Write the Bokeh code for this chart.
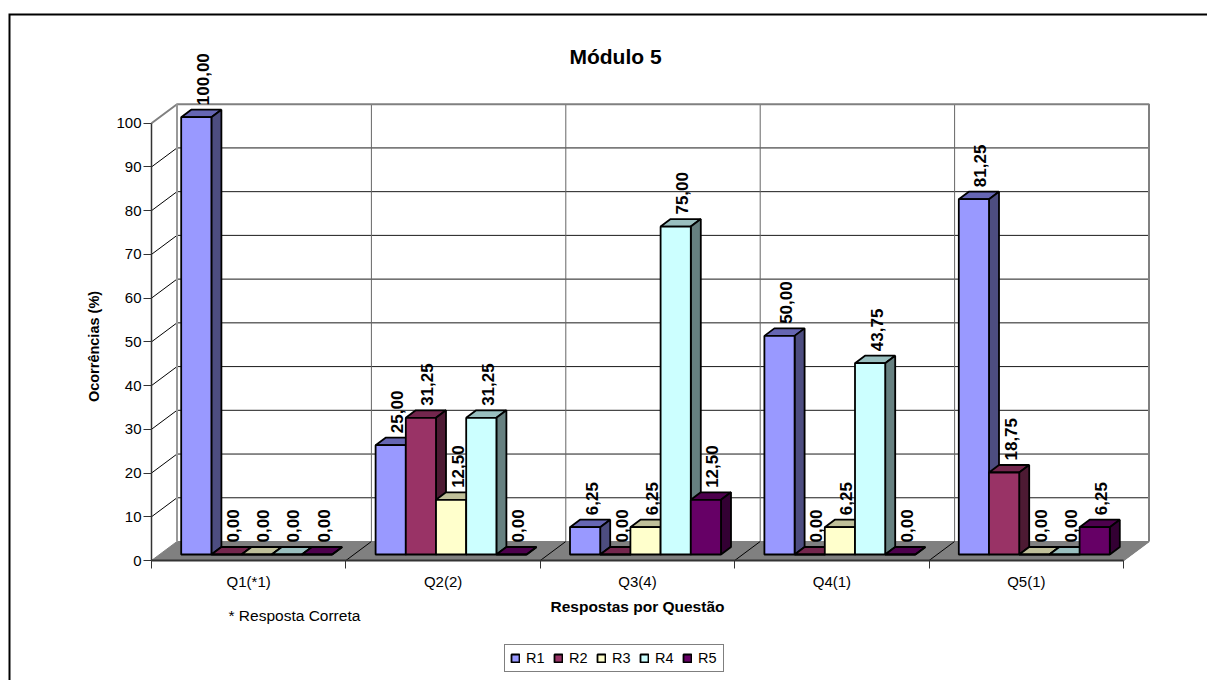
from bokeh.plotting import figure
from bokeh.embed import file_html
from bokeh.resources import INLINE
from bokeh.core.properties import value
from bokeh.models import (ColumnDataSource, FixedTicker, LabelSet, Label, Legend, LegendItem, Range1d)

categories = ["Q1(*1)", "Q2(2)", "Q3(4)", "Q4(1)", "Q5(1)"]
R1 = [100.00, 25.00, 6.25, 50.00, 81.25]
R2 = [0.00, 31.25, 0.00, 0.00, 18.75]
R3 = [0.00, 12.50, 6.25, 6.25, 0.00]
R4 = [0.00, 31.25, 75.00, 43.75, 0.00]
R5 = [0.00, 0.00, 12.50, 0.00, 6.25]
series_names = ["R1", "R2", "R3", "R4", "R5"]
series_values = [R1, R2, R3, R4, R5]
front_colors = ["#9999FF", "#993366", "#FFFFCC", "#CCFFFF", "#660066"]
top_colors = ["#6666B3", "#73264D", "#BFBF99", "#99BFBF", "#4D004D"]
side_colors = ["#4D4D80", "#4D1A33", "#808066", "#668080", "#330033"]
y_ticks = [0, 10, 20, 30, 40, 50, 60, 70, 80, 90, 100]

FONT = "Liberation Sans"
W, H = 1207, 680
# scale in page pixels: origin of the axes and size of one unit
OX, OY = 151, 560
PX_CAT = 194.4
PX_VAL = 4.373
def hx(px): return px / PX_CAT
def vy(px): return px / PX_VAL
def page_x(px): return (px - OX) / PX_CAT
def page_y(py): return (OY - py) / PX_VAL

p = figure(width=W, height=H, output_backend="svg", toolbar_location=None,
           x_range=Range1d(page_x(0), page_x(W)), y_range=Range1d(page_y(H), page_y(0)),
           min_border=0, background_fill_color="white", border_fill_color="white",
           outline_line_color=None)
p.grid.visible = False

# outer chart border (right and bottom sides lie outside the picture)
p.line([page_x(9), page_x(9), page_x(W + 20)], [page_y(H + 20), page_y(14), page_y(14)],
       line_color="black", line_width=2, line_join="miter")

# title
p.add_layout(Label(x=page_x(615), y=page_y(56), text="Módulo 5", text_align="center",
                   text_baseline="alphabetic", text_font=FONT, text_font_size="21px",
                   text_font_style="bold", text_color="black"))

# wall / floor depth
DX, DY = hx(25.5), vy(19)
n = len(categories)

# floor
p.patch([0, n, n + DX, DX], [0, 0, DY, DY], fill_color="#808080", line_color="#808080")
# floor category dividers
p.segment(list(range(1, n)), [0] * (n - 1), [i + DX for i in range(1, n)], [DY] * (n - 1),
          line_color="black", line_width=1)
# back wall grid
grid_t = y_ticks[1:-1]
p.segment([DX] * len(grid_t), [t + DY for t in grid_t], [n + DX] * len(grid_t), [t + DY for t in grid_t],
          line_color="#1a1a1a", line_width=1)
p.segment([0] * len(grid_t), grid_t, [DX] * len(grid_t), [t + DY for t in grid_t],
          line_color="black", line_width=1)
p.segment([i + DX for i in range(1, n)], [DY] * (n - 1), [i + DX for i in range(1, n)], [100 + DY] * (n - 1),
          line_color="#666666", line_width=1)
# wall frame
p.line([0, DX, n + DX, n + DX], [100, 100 + DY, 100 + DY, DY], line_color="#808080", line_width=2)
p.line([DX, DX], [DY, 100 + DY], line_color="#999999", line_width=2)
p.line([n, n + DX], [0, DY], line_color="#808080", line_width=1.5)

# bars
BW = hx(30.2)
SX, SY = hx(8), vy(6)           # offset of the bar front plane from the front of the floor
BDX, BDY = hx(10), vy(7.5)      # bar depth
GAP = (1 - 5 * BW) / 2
LW = 1.8
items = []
lab_x, lab_y, lab_t = [], [], []
for s, (name, vals) in enumerate(zip(series_names, series_values)):
    left = [i + GAP + s * BW + SX for i in range(n)]
    right = [l + BW for l in left]
    base = [SY] * n
    tops = [v + SY for v in vals]
    p.patches([[l, r, r + BDX, l + BDX] for l, r in zip(left, right)],
              [[t, t, t + BDY, t + BDY] for t in tops],
              fill_color=top_colors[s], line_color="black", line_width=LW)
    p.patches([[r, r + BDX, r + BDX, r] for r in right],
              [[b, b + BDY, t + BDY, t] for b, t in zip(base, tops)],
              fill_color=side_colors[s], line_color="black", line_width=LW)
    q = p.quad(left=left, right=right, bottom=base, top=tops,
               fill_color=front_colors[s], line_color="black", line_width=LW)
    items.append(LegendItem(label=name, renderers=[q]))
    for l, t, v in zip(left, tops, vals):
        lab_x.append(l + BW / 2 + hx(6.5))
        lab_y.append(t + BDY + vy(4.5))
        lab_t.append(f"{v:.2f}".replace(".", ","))

src = ColumnDataSource(dict(x=lab_x, y=lab_y, t=lab_t))
p.add_layout(LabelSet(x="x", y="y", text="t", source=src, angle=90, angle_units="deg",
                      text_align="left", text_baseline="middle",
                      text_font=value(FONT), text_font_size=value("17px"),
                      text_font_style=value("bold"), text_color="black"))

# axes
ya = p.yaxis[0]
ya.fixed_location = 0
ya.ticker = FixedTicker(ticks=y_ticks)
ya.bounds = (0, 100)
ya.major_label_text_font = FONT
ya.major_label_text_font_size = "15px"
ya.major_label_text_color = "black"
ya.major_label_standoff = 2
ya.major_tick_in = 0
ya.major_tick_out = 8
ya.minor_tick_line_color = None
ya.axis_line_color = "#333333"
ya.axis_line_width = 1.5
ya.major_tick_line_color = "#333333"

p.add_layout(Label(x=page_x(93), y=page_y(346), text="Ocorrências (%)", angle=90, angle_units="deg",
                   text_align="center", text_baseline="middle", text_font=FONT,
                   text_font_size="14.5px", text_font_style="bold", text_color="black"))

xa = p.xaxis[0]
xa.fixed_location = 0
xa.ticker = FixedTicker(ticks=[i + 0.5 for i in range(n)], minor_ticks=list(range(n + 1)))
xa.major_label_overrides = {i + 0.5: c for i, c in enumerate(categories)}
xa.bounds = (0, n)
xa.axis_label = "Respostas por Questão"
xa.axis_label_text_font = FONT
xa.axis_label_text_font_style = "bold"
xa.axis_label_text_font_size = "15.5px"
xa.axis_label_text_color = "black"
xa.axis_label_standoff = 5
xa.major_label_text_font = FONT
xa.major_label_text_font_size = "15px"
xa.major_label_text_color = "black"
xa.major_label_standoff = 4
xa.major_tick_in = 0
xa.major_tick_out = 0
xa.minor_tick_in = 0
xa.minor_tick_out = 8
xa.minor_tick_line_color = "#333333"
xa.axis_line_color = "#333333"
xa.axis_line_width = 2

# note
p.add_layout(Label(x=page_x(228), y=page_y(615), text="* Resposta Correta", text_baseline="middle",
                   text_font=FONT, text_font_size="15.5px", text_color="black"))

# legend
leg = Legend(items=items, orientation="horizontal", location=(504, 8),
             glyph_width=10, glyph_height=10, label_text_font=FONT, label_text_font_size="14.5px",
             label_text_color="black", border_line_color="black", border_line_width=1,
             background_fill_color="white", background_fill_alpha=1,
             padding=5, margin=0, spacing=7, label_standoff=6, label_height=15)
p.add_layout(leg)

open("out.html", "w").write(file_html(p, INLINE))
